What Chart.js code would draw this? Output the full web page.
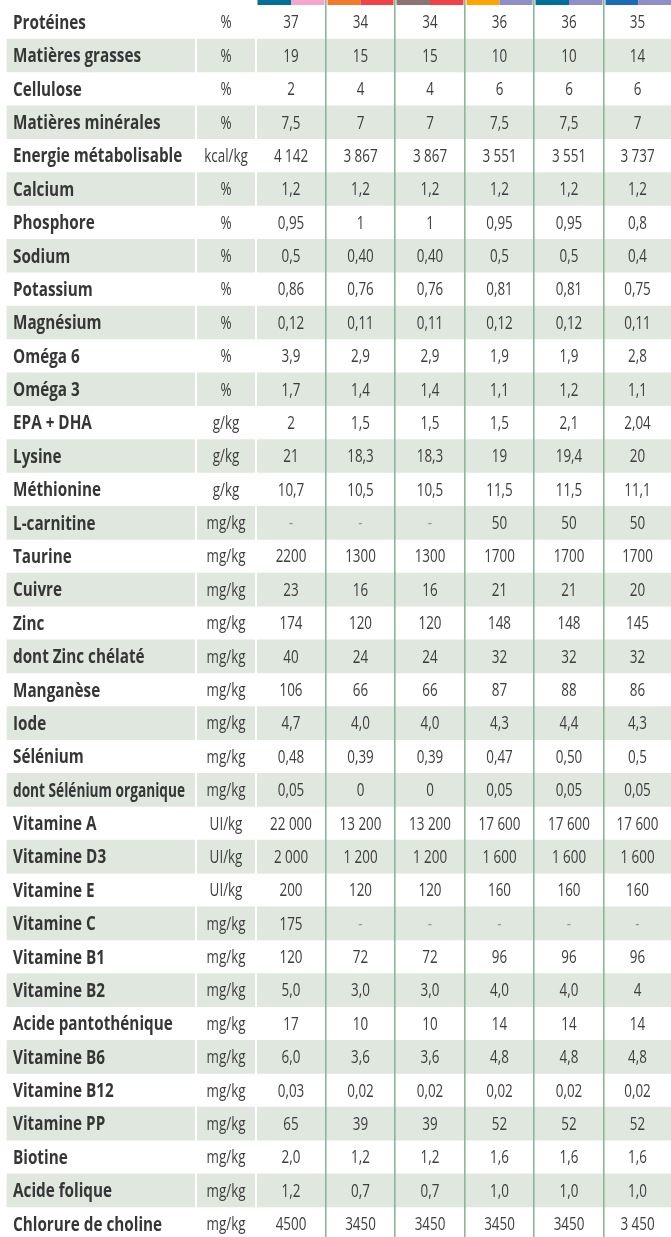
<!DOCTYPE html>
<html><head><meta charset="utf-8">
<script src="https://cdn.jsdelivr.net/npm/chart.js@4/dist/chart.umd.min.js"></script>
<style>html,body{margin:0;padding:0;background:#fff;overflow:hidden}#wrap{width:671px;height:1237px;position:relative}</style>
</head><body><div id="wrap"><canvas id="c" width="671" height="1237"></canvas></div>
<script>
// ---------- DATA ----------
const nutrients = ["Protéines","Matières grasses","Cellulose","Matières minérales","Energie métabolisable","Calcium","Phosphore","Sodium","Potassium","Magnésium","Oméga 6","Oméga 3","EPA + DHA","Lysine","Méthionine","L-carnitine","Taurine","Cuivre","Zinc","dont Zinc chélaté","Manganèse","Iode","Sélénium","dont Sélénium organique","Vitamine A","Vitamine D3","Vitamine E","Vitamine C","Vitamine B1","Vitamine B2","Acide pantothénique","Vitamine B6","Vitamine B12","Vitamine PP","Biotine","Acide folique","Chlorure de choline"];
const units = ["%","%","%","%","kcal/kg","%","%","%","%","%","%","%","g/kg","g/kg","g/kg","mg/kg","mg/kg","mg/kg","mg/kg","mg/kg","mg/kg","mg/kg","mg/kg","mg/kg","UI/kg","UI/kg","UI/kg","mg/kg","mg/kg","mg/kg","mg/kg","mg/kg","mg/kg","mg/kg","mg/kg","mg/kg","mg/kg"];
const product1 = ["37","19","2","7,5","4 142","1,2","0,95","0,5","0,86","0,12","3,9","1,7","2","21","10,7","-","2200","23","174","40","106","4,7","0,48","0,05","22 000","2 000","200","175","120","5,0","17","6,0","0,03","65","2,0","1,2","4500"];
const product2 = ["34","15","4","7","3 867","1,2","1","0,40","0,76","0,11","2,9","1,4","1,5","18,3","10,5","-","1300","16","120","24","66","4,0","0,39","0","13 200","1 200","120","-","72","3,0","10","3,6","0,02","39","1,2","0,7","3450"];
const product3 = ["34","15","4","7","3 867","1,2","1","0,40","0,76","0,11","2,9","1,4","1,5","18,3","10,5","-","1300","16","120","24","66","4,0","0,39","0","13 200","1 200","120","-","72","3,0","10","3,6","0,02","39","1,2","0,7","3450"];
const product4 = ["36","10","6","7,5","3 551","1,2","0,95","0,5","0,81","0,12","1,9","1,1","1,5","19","11,5","50","1700","21","148","32","87","4,3","0,47","0,05","17 600","1 600","160","-","96","4,0","14","4,8","0,02","52","1,6","1,0","3450"];
const product5 = ["36","10","6","7,5","3 551","1,2","0,95","0,5","0,81","0,12","1,9","1,2","2,1","19,4","11,5","50","1700","21","148","32","88","4,4","0,50","0,05","17 600","1 600","160","-","96","4,0","14","4,8","0,02","52","1,6","1,0","3450"];
const product6 = ["35","14","6","7","3 737","1,2","0,8","0,4","0,75","0,11","2,8","1,1","2,04","20","11,1","50","1700","20","145","32","86","4,3","0,5","0,05","17 600","1 600","160","-","96","4","14","4,8","0,02","52","1,6","1,0","3 450"];
const products = [product1, product2, product3, product4, product5, product6];
const stripColors = [["#00709b","#f3a7cb"],["#f37a2a","#ee4148"],["#8a766f","#ee4148"],["#ffa503","#8f8fc5"],["#00709b","#8f8fc5"],["#1b6cb5","#8f8fc5"]];

// ---------- LAYOUT ----------
const W = 671, H = 1237;
const ROW0 = 22.1, ROW_H = 33.38;
const yMin = -ROW0 / ROW_H, yMax = yMin + H / ROW_H;
const BAND_LEFT = 7;
const sepLines = [196, 256];                 // white separators
const colLines = [326, 395, 465, 534, 604];  // green lines
const colEdges = [256, 326, 395, 465, 534, 604, 671];
const LABEL_X = 13, UNIT_X = 226, LABEL_MAX_W = 172;
const LABEL_FONT = 'bold 19px "Open Sans"';
const VALUE_FONT = '18px "Open Sans"';
const LABEL_COLOR = '#363636', VALUE_COLOR = '#3d3d3d', DASH_COLOR = '#9a9a9a';

const bandData = nutrients.map((n, i) => ({ y: i, x: i % 2 === 1 ? [BAND_LEFT, W] : null }));

function scaledText(ctx, txt, x, y, font, color, sx, align, maxW) {
  ctx.save();
  ctx.font = font; ctx.fillStyle = color; ctx.textBaseline = 'alphabetic'; ctx.textAlign = 'left';
  const raw = ctx.measureText(txt).width;
  if (maxW && raw * sx > maxW) sx = maxW / raw;
  const w = raw * sx;
  const left = align === 'left' ? x : x - w / 2;
  ctx.translate(left, y); ctx.scale(sx, 1); ctx.fillText(txt, 0, 0);
  ctx.restore();
}

const tablePlugin = {
  id: 'table',
  afterDatasetsDraw(chart) {
    const ctx = chart.ctx, xs = chart.scales.x;
    for (let c = 0; c < 6; c++) {
      const l = xs.getPixelForValue(colEdges[c]) + 1.5, r = xs.getPixelForValue(colEdges[c + 1]) - (c === 5 ? 0 : 1.5);
      const m = (l + r) / 2;
      ctx.fillStyle = stripColors[c][0]; ctx.fillRect(l, 0, m - l, 5);
      ctx.fillStyle = stripColors[c][1]; ctx.fillRect(m, 0, r - m, 5);
    }
  },
  afterDraw(chart) {
    const ctx = chart.ctx, xs = chart.scales.x, ys = chart.scales.y;
    ctx.save();
    ctx.font = LABEL_FONT;
    const sxL = 128 / ctx.measureText("Matières grasses").width;
    ctx.font = VALUE_FONT;
    const sxV = 23 / ctx.measureText("000").width;
    ctx.restore();
    nutrients.forEach((name, i) => {
      const yc = ys.getPixelForValue(i);
      scaledText(ctx, name, xs.getPixelForValue(LABEL_X), yc + 6.8, LABEL_FONT, LABEL_COLOR, sxL, 'left', LABEL_MAX_W);
      scaledText(ctx, units[i], xs.getPixelForValue(UNIT_X), yc + 6.3, VALUE_FONT, VALUE_COLOR, sxV, 'center');
      products.forEach((p, c) => {
        const cx = xs.getPixelForValue((colEdges[c] + colEdges[c + 1]) / 2);
        const v = p[i];
        scaledText(ctx, v, cx, yc + 6.3, VALUE_FONT, v === '-' ? DASH_COLOR : VALUE_COLOR, sxV, 'center');
      });
    });
  }
};

new Chart(document.getElementById('c'), {
  type: 'bar',
  data: { datasets: [{ data: bandData, backgroundColor: '#dfe7df', borderWidth: 0, barThickness: 33 }] },
  options: {
    indexAxis: 'y', responsive: false, animation: false,
    layout: { padding: 0 },
    plugins: { legend: { display: false }, tooltip: { enabled: false } },
    scales: {
      x: {
        type: 'linear', min: 0, max: W, position: 'top', offset: false,
        border: { display: false },
        ticks: { display: false },
        grid: {
          z: 1, drawTicks: false, offset: false,
          color: c => sepLines.includes(c.tick.value) ? '#ffffff' : '#8ab896',
          lineWidth: c => sepLines.includes(c.tick.value) ? 2 : 1.6
        },
        afterBuildTicks: s => { s.ticks = sepLines.concat(colLines).map(v => ({ value: v })); },
        afterFit: s => { s.height = 0; }
      },
      y: { type: 'linear', reverse: true, min: yMin, max: yMax, offset: false, grid: { offset: false }, display: false }
    }
  },
  plugins: [tablePlugin]
});
</script></body></html>
